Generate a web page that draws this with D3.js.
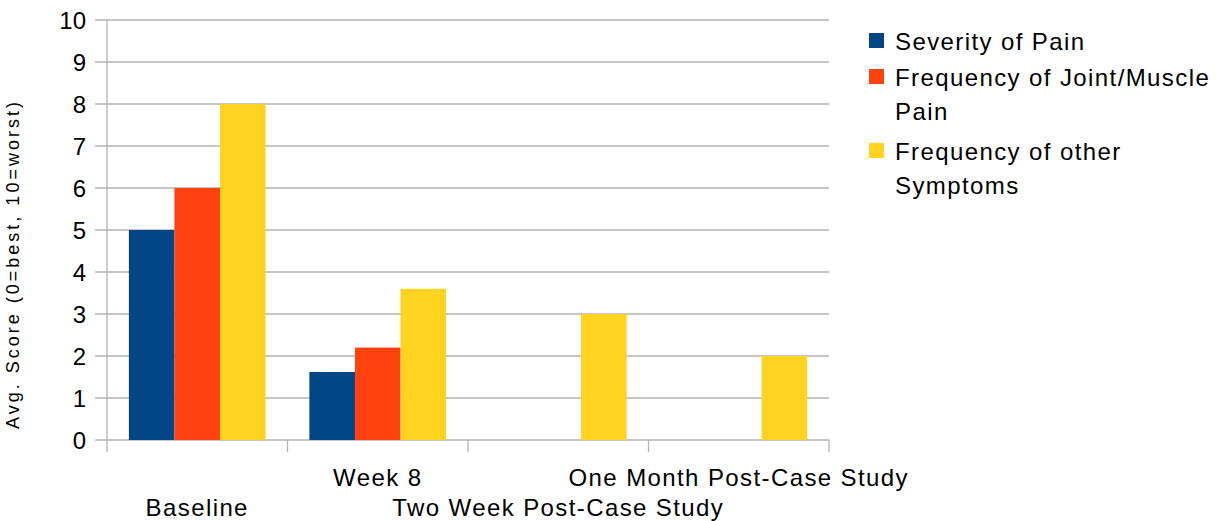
<!DOCTYPE html>
<html>
<head>
<meta charset="utf-8">
<script src="https://cdn.jsdelivr.net/npm/d3@7"></script>
<style>
  html, body { margin: 0; padding: 0; background: #fff; }
  svg { display: block; font-family: "Liberation Sans", Arial, sans-serif; }
</style>
</head>
<body>
<svg id="chart" width="1216" height="521"></svg>
<script>
const categories = ["Baseline", "Week 8", "Two Week Post-Case Study", "One Month Post-Case Study"];
const seriesNames = ["Severity of Pain", "Frequency of Joint/Muscle Pain", "Frequency of other Symptoms"];
const severityOfPain = [5, 1.62, 0, 0];
const jointMusclePain = [6, 2.2, 0, 0];
const otherSymptoms = [8, 3.6, 3, 2];
const yTicks = [0, 1, 2, 3, 4, 5, 6, 7, 8, 9, 10];
const colors = ["#004586", "#ff420e", "#ffd320"];
const legendLines = [["Severity of Pain"], ["Frequency of Joint/Muscle", "Pain"], ["Frequency of other", "Symptoms"]];

const series = [severityOfPain, jointMusclePain, otherSymptoms];
const svg = d3.select("#chart");
const plotLeft = 107, plotRight = 829, plotTop = 20, plotBottom = 440;

const x = d3.scaleBand().domain(categories).range([plotLeft, plotRight]).paddingInner(0).paddingOuter(0);
const inner = d3.scaleBand().domain(d3.range(series.length)).range([0, x.bandwidth()]).paddingInner(0).paddingOuter(0.48);
const y = d3.scaleLinear().domain([0, 10]).range([plotBottom, plotTop]);

// horizontal gridlines
svg.append("g").selectAll("line").data(yTicks).join("line")
  .attr("x1", plotLeft - 12).attr("x2", plotRight)
  .attr("y1", d => y(d)).attr("y2", d => y(d))
  .attr("stroke", "#b3b3b3").attr("stroke-width", 1.3);

// y axis line
svg.append("line").attr("x1", plotLeft).attr("x2", plotLeft).attr("y1", plotTop).attr("y2", plotBottom + 12)
  .attr("stroke", "#b3b3b3").attr("stroke-width", 1.3);

// category boundary ticks
const bounds = categories.map(c => x(c)).concat([plotRight]);
svg.append("g").selectAll("line").data(bounds.slice(1)).join("line")
  .attr("x1", d => d).attr("x2", d => d).attr("y1", plotBottom).attr("y2", plotBottom + 12)
  .attr("stroke", "#b3b3b3").attr("stroke-width", 1.3);

// bars
const groups = svg.append("g").selectAll("g").data(categories).join("g")
  .attr("transform", c => `translate(${x(c)},0)`);
groups.selectAll("rect").data((c, i) => series.map((s, k) => ({k, v: s[i]})).filter(d => d.v > 0))
  .join("rect")
  .attr("x", d => inner(d.k)).attr("width", inner.bandwidth())
  .attr("y", d => y(d.v)).attr("height", d => plotBottom - y(d.v))
  .attr("fill", d => colors[d.k]);

// y tick labels
svg.append("g").selectAll("text").data(yTicks).join("text")
  .attr("x", 86).attr("y", d => y(d) + 8.5)
  .attr("text-anchor", "end").attr("font-size", 24).attr("fill", "#000")
  .text(d => d);

// y axis title
svg.append("text")
  .attr("transform", "translate(19,264) rotate(-90)")
  .attr("text-anchor", "middle").attr("font-size", 18).attr("letter-spacing", 3)
  .attr("fill", "#000")
  .text("Avg. Score (0=best, 10=worst)");

// category labels, staggered
svg.append("g").selectAll("text").data(categories).join("text")
  .attr("x", c => x(c) + x.bandwidth() / 2)
  .attr("y", (c, i) => i % 2 === 0 ? 516 : 486)
  .attr("text-anchor", "middle").attr("font-size", 24).attr("letter-spacing", 1.4)
  .attr("fill", "#000")
  .text(c => c);

// legend
const legendTops = [33, 69, 143];
const legend = svg.append("g");
legendLines.forEach((lines, i) => {
  legend.append("rect").attr("x", 869).attr("y", legendTops[i]).attr("width", 15).attr("height", 15)
    .attr("fill", colors[i]);
  lines.forEach((t, j) => {
    legend.append("text").attr("x", 895).attr("y", legendTops[i] + 17 + j * 33.5)
      .attr("font-size", 24).attr("letter-spacing", 1.4).attr("fill", "#000").text(t);
  });
});
</script>
</body>
</html>
